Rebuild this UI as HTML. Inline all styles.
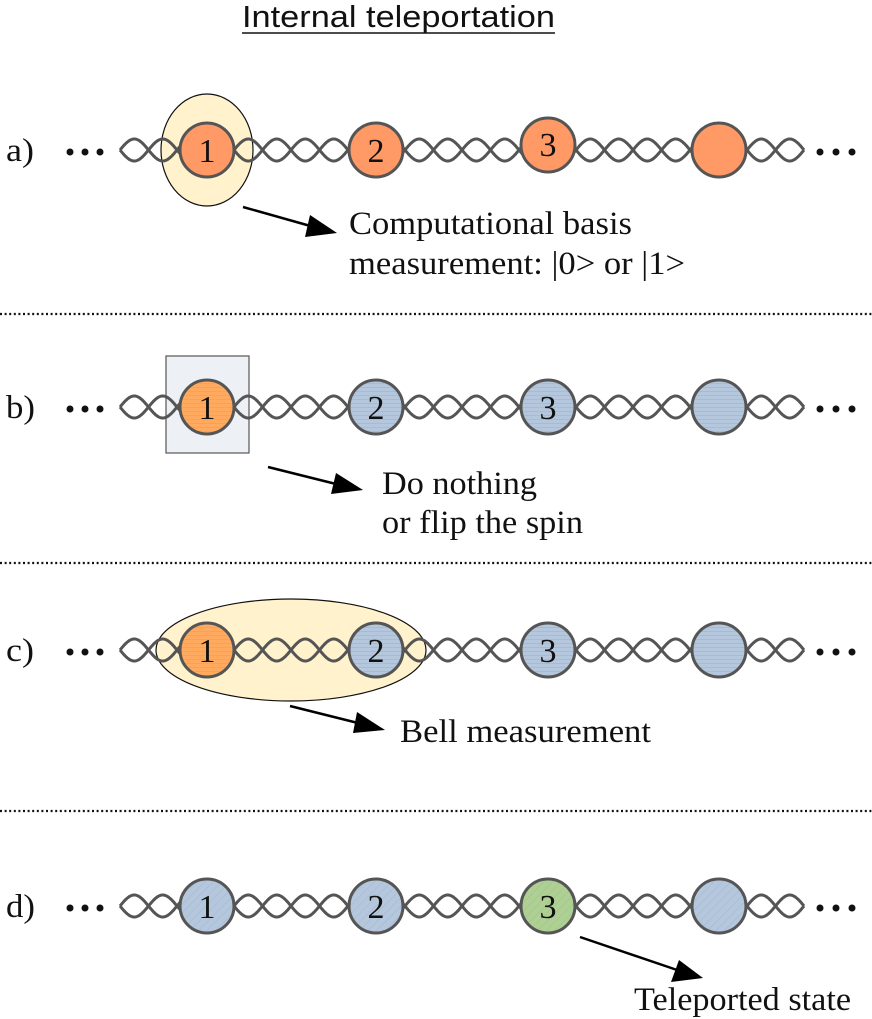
<!DOCTYPE html>
<html><head><meta charset="utf-8"><style>
html,body{margin:0;padding:0;background:#fff;}
svg{display:block;}
.t{font-family:"Liberation Serif",serif;font-size:33px;fill:#111;}
.n{font-family:"Liberation Serif",serif;font-size:34px;fill:#111;text-anchor:middle;}
.c{stroke:#555;stroke-width:3;}
</style></head><body>
<svg id="s" width="872" height="1019" viewBox="0 0 872 1019" xmlns="http://www.w3.org/2000/svg">
<defs>
<pattern id="hl" width="6" height="4" patternUnits="userSpaceOnUse"><rect width="6" height="4" fill="#b4c7dc"/><line x1="0" y1="3.5" x2="6" y2="3.5" stroke="#9fb4cc" stroke-width="0.6"/></pattern>
<pattern id="dg" width="6" height="6" patternUnits="userSpaceOnUse" patternTransform="rotate(45)"><rect width="6" height="6" fill="#b4c7dc"/><line x1="0" y1="0" x2="0" y2="6" stroke="#9fb4cc" stroke-width="0.8"/></pattern>
<pattern id="dgg" width="6" height="6" patternUnits="userSpaceOnUse" patternTransform="rotate(45)"><rect width="6" height="6" fill="#afd095"/><line x1="0" y1="0" x2="0" y2="6" stroke="#98bd7c" stroke-width="0.8"/></pattern>
<pattern id="ho" width="6" height="4" patternUnits="userSpaceOnUse"><rect width="6" height="4" fill="#ffaa5e"/><line x1="0" y1="3.5" x2="6" y2="3.5" stroke="#f59c50" stroke-width="0.6"/></pattern>
</defs>

<text x="242" y="27" textLength="313" lengthAdjust="spacingAndGlyphs" style="font-family:'Liberation Sans',sans-serif;font-size:31px;fill:#111">Internal teleportation</text>
<line x1="242" y1="33" x2="555" y2="33" stroke="#111" stroke-width="1.5"/>

<g stroke="#111" stroke-width="2.2" stroke-dasharray="2,2.6">
<line x1="0" y1="314" x2="872" y2="314"/>
<line x1="0" y1="563" x2="872" y2="563"/>
<line x1="0" y1="811" x2="872" y2="811"/>
</g>

<text class="t" x="6" y="161" textLength="28" lengthAdjust="spacingAndGlyphs">a)</text>
<ellipse cx="207" cy="150" rx="46" ry="56" fill="#fff2cc" stroke="#111" stroke-width="1.2"/>
<g id="ra"></g>
<circle class="c" cx="207" cy="150" r="27" fill="#ff9966"/>
<circle class="c" cx="376" cy="150" r="27" fill="#ff9966"/>
<circle class="c" cx="548" cy="145" r="27" fill="#ff9966"/>
<circle class="c" cx="719" cy="150" r="27" fill="#ff9966"/>
<text class="n" x="207" y="162">1</text><text class="n" x="376" y="162">2</text><text class="n" x="548" y="156">3</text>
<path d="M243,207 L314,227" stroke="#000" stroke-width="2.5"/>
<path d="M310,215 L337,233 L305,237 z" fill="#000"/>
<text class="t" x="349" y="234" textLength="283" lengthAdjust="spacingAndGlyphs">Computational basis</text>
<text class="t" x="349" y="274" textLength="336" lengthAdjust="spacingAndGlyphs">measurement: |0&gt; or |1&gt;</text>

<text class="t" x="6" y="418" textLength="29" lengthAdjust="spacingAndGlyphs">b)</text>
<rect x="166" y="356" width="83" height="97" fill="#edf1f6" stroke="#555" stroke-width="1.2"/>
<g id="rb"></g>
<circle class="c" cx="207" cy="407" r="27" fill="url(#ho)"/>
<circle class="c" cx="376" cy="407" r="27" fill="url(#hl)"/>
<circle class="c" cx="548" cy="407" r="27" fill="url(#hl)"/>
<circle class="c" cx="719" cy="407" r="27" fill="url(#hl)"/>
<text class="n" x="207" y="419">1</text><text class="n" x="376" y="419">2</text><text class="n" x="548" y="419">3</text>
<path d="M268,467 L340,485" stroke="#000" stroke-width="2.5"/>
<path d="M336,473 L363,490 L331,494 z" fill="#000"/>
<text class="t" x="382" y="494" textLength="155" lengthAdjust="spacingAndGlyphs">Do nothing</text>
<text class="t" x="382" y="533" textLength="201" lengthAdjust="spacingAndGlyphs">or flip the spin</text>

<text class="t" x="6" y="661" textLength="28" lengthAdjust="spacingAndGlyphs">c)</text>
<ellipse cx="291" cy="650" rx="135" ry="51" fill="#fff2cc" stroke="#111" stroke-width="1.2"/>
<g id="rc"></g>
<circle class="c" cx="207" cy="650" r="27" fill="url(#ho)"/>
<circle class="c" cx="376" cy="650" r="27" fill="url(#hl)"/>
<circle class="c" cx="548" cy="650" r="27" fill="url(#hl)"/>
<circle class="c" cx="719" cy="650" r="27" fill="url(#hl)"/>
<text class="n" x="207" y="662">1</text><text class="n" x="376" y="662">2</text><text class="n" x="548" y="662">3</text>
<path d="M290,706 L362,724" stroke="#000" stroke-width="2.5"/>
<path d="M357,712 L385,730 L353,733 z" fill="#000"/>
<text class="t" x="400" y="742" textLength="251" lengthAdjust="spacingAndGlyphs">Bell measurement</text>

<text class="t" x="6" y="917" textLength="29" lengthAdjust="spacingAndGlyphs">d)</text>
<g id="rd"></g>
<circle class="c" cx="207" cy="906" r="27" fill="url(#dg)"/>
<circle class="c" cx="376" cy="906" r="27" fill="url(#dg)"/>
<circle class="c" cx="548" cy="906" r="27" fill="url(#dgg)"/>
<circle class="c" cx="719" cy="906" r="27" fill="url(#dg)"/>
<text class="n" x="207" y="918">1</text><text class="n" x="376" y="918">2</text><text class="n" x="548" y="918">3</text>
<path d="M580,937 L683,972" stroke="#000" stroke-width="2.5"/>
<path d="M679,960 L703,978 L671,982 z" fill="#000"/>
<text class="t" x="634" y="1010" textLength="217" lengthAdjust="spacingAndGlyphs">Teleported state</text>
</svg>
<script>
(function(){
 var rows=[["ra",150],["rb",407],["rc",650],["rd",906]];
 var ns="http://www.w3.org/2000/svg";
 rows.forEach(function(r){
  var g=document.getElementById(r[0]),y=r[1];
  [1,-1].forEach(function(sg){
   var d="";
   for(var x=120;x<=804;x+=1){var yy=y+sg*11*Math.sin((x-120)/28.5*Math.PI);d+=(x==120?"M":"L")+x+","+yy.toFixed(2);}
   var p=document.createElementNS(ns,"path");p.setAttribute("d",d);p.setAttribute("fill","none");p.setAttribute("stroke","#555");p.setAttribute("stroke-width","3");g.appendChild(p);
  });
  [70,85,100,820,836,852].forEach(function(cx){var c=document.createElementNS(ns,"circle");c.setAttribute("cx",cx);c.setAttribute("cy",y+2);c.setAttribute("r","3.5");c.setAttribute("fill","#111");g.appendChild(c);});
 });
})();
</script>
</body></html>
